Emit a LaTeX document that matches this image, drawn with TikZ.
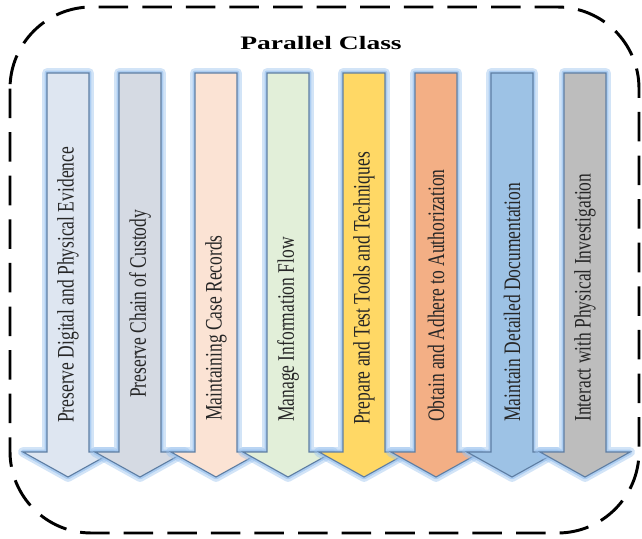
\documentclass[tikz,border=0pt]{standalone}
\usepackage{fontspec}
\setmainfont{Liberation Serif}
\newfontfamily\stemfont[FakeStretch=0.74]{Liberation Serif}
\newfontfamily\headfont[FakeStretch=1.45]{Liberation Serif}

\definecolor{fillA}{HTML}{DEE6F1}
\definecolor{fillB}{HTML}{D5DAE3}
\definecolor{fillC}{HTML}{FBE3D4}
\definecolor{fillD}{HTML}{E2EFD9}
\definecolor{fillE}{HTML}{FFD865}
\definecolor{fillF}{HTML}{F3AF85}
\definecolor{fillG}{HTML}{9DC2E5}
\definecolor{fillH}{HTML}{BDBDBD}
\definecolor{edgeblue}{HTML}{5E7EA3}
\definecolor{glowblue}{HTML}{9CC3EE}

\tikzset{
  glow/.style={draw=glowblue,line width=7,opacity=.45,line join=round},
  glowin/.style={draw=glowblue,line width=3.5,opacity=.7,line join=round},
  arrowline/.style={draw=edgeblue,line width=.8},
  stemtext/.style={rotate=90,anchor=west,inner sep=0pt,text=black!85,
    font=\stemfont\fontsize{16.8}{19}\selectfont},
}

\begin{document}
\begin{tikzpicture}[x=0.025cm,y=-0.025cm]
\useasboundingbox (0,0) rectangle (642,538);
% dashed frame
\draw[line width=2.1pt,dash pattern=on 21pt off 10pt,rounded corners=58pt] (10,7) rectangle (639,533);
\node (title) at (321,43) {\headfont\bfseries\fontsize{13.5}{16}\selectfont Parallel Class};
% the eight down arrows
\foreach \x/\c/\y/\t [count=\i] in {
  68/fillA/423/{Preserve Digital  and Physical Evidence},
  140/fillB/398/{Preserve Chain of Custody},
  216/fillC/421/{Maintaining Case Records},
  288/fillD/422/{Manage Information Flow},
  364/fillE/425/{Prepare and Test Tools and Techniques},
  436/fillF/422/{Obtain and Adhere to Authorization},
  512/fillG/422/{Maintain Detailed Documentation},
  585/fillH/422/{Interact with Physical Investigation}} {
  \draw[glow] (\x-21,73) -- (\x+21,73) -- (\x+21,452) -- (\x+45,452) -- (\x,477) -- (\x-45,452) -- (\x-21,452) -- cycle;
  \draw[glowin] (\x-21,73) -- (\x+21,73) -- (\x+21,452) -- (\x+45,452) -- (\x,477) -- (\x-45,452) -- (\x-21,452) -- cycle;
  \draw[arrowline,fill=\c] (\x-21,73) -- (\x+21,73) -- (\x+21,452) -- (\x+45,452) -- (\x,477) -- (\x-45,452) -- (\x-21,452) -- cycle;
  \node[stemtext] (step\i) at (\x,\y) {\t};
}
\end{tikzpicture}
\end{document}
